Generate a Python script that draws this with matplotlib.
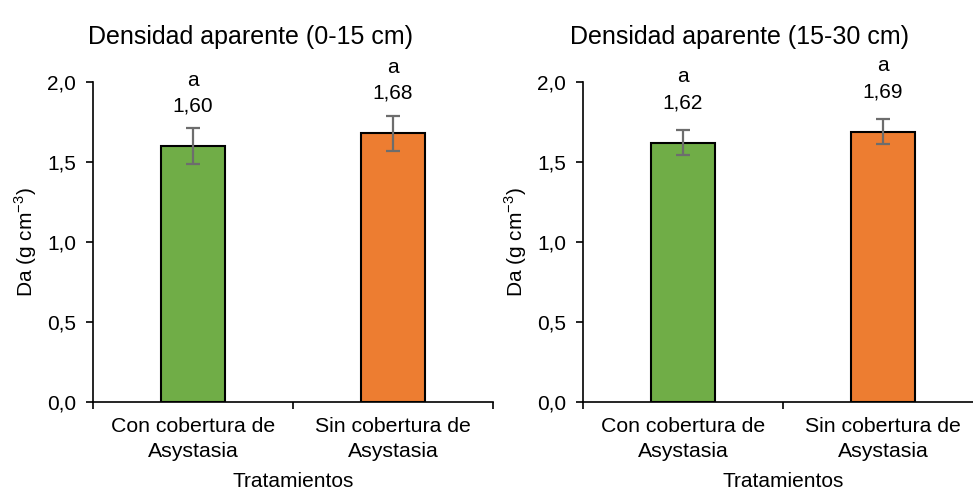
import matplotlib
matplotlib.use("Agg")
import matplotlib.pyplot as plt

plt.rcParams['font.family'] = ['Liberation Sans', 'DejaVu Sans']
plt.rcParams['mathtext.fontset'] = 'custom'
plt.rcParams['mathtext.rm'] = 'Liberation Sans'

categories = ["Con cobertura de\nAsystasia", "Sin cobertura de\nAsystasia"]
titles = ["Densidad aparente (0-15 cm)", "Densidad aparente (15-30 cm)"]
da_0_15 = [1.60, 1.68]
err_0_15 = [0.11, 0.11]
da_15_30 = [1.62, 1.69]
err_15_30 = [0.078, 0.078]
letters_0_15 = ["a", "a"]
letters_15_30 = ["a", "a"]
colors = ["#70AD47", "#ED7D31"]

fig = plt.figure(figsize=(9.73, 4.92), dpi=100)
W, H = 973, 492

panels = [
    (93, da_0_15, err_0_15, letters_0_15, titles[0], 250),
    (583, da_15_30, err_15_30, letters_15_30, titles[1], 740),
]

for x0, vals, errs, letters, title, title_x in panels:
    ax = fig.add_axes([x0 / W, 1 - 402 / H, 400 / W, 320 / H])
    xs = [0, 1]
    ax.bar(xs, vals, width=0.32, color=colors, edgecolor="black", linewidth=1.5, zorder=2)
    ax.errorbar(xs, vals, yerr=errs, fmt="none", ecolor="#6d6d6d", elinewidth=1.6,
                capsize=5, capthick=1.6, zorder=3)
    for x, v, e, l in zip(xs, vals, errs, letters):
        ax.annotate("{:.2f}".format(v).replace(".", ","), (x, v), xytext=(0, 40),
                    textcoords="offset pixels", ha="center", va="center", fontsize=15)
        ax.annotate(l, (x, v), xytext=(0, 66), textcoords="offset pixels",
                    ha="center", va="center", fontsize=15)
    ax.set_xlim(-0.5, 1.5)
    ax.set_ylim(0, 2.0)
    ax.set_yticks([0, 0.5, 1.0, 1.5, 2.0])
    ax.set_yticklabels(["0,0", "0,5", "1,0", "1,5", "2,0"])
    ax.set_xticks([-0.5, 0.5, 1.5])
    ax.set_xticklabels(["", "", ""])
    ax.set_xticks(xs, minor=True)
    ax.set_xticklabels(categories, minor=True, fontsize=15.3, linespacing=1.35)
    ax.tick_params(axis="x", which="major", length=5, width=1.2, direction="out")
    ax.tick_params(axis="x", which="minor", length=0, pad=11)
    ax.tick_params(axis="y", length=5, width=1.2, direction="out", labelsize=15, pad=7)
    for s in ["top", "right"]:
        ax.spines[s].set_visible(False)
    ax.spines["left"].set_linewidth(1.2)
    ax.spines["bottom"].set_linewidth(1.2)
    ax.set_ylabel("Da (g cm$^{\\mathregular{-3}}$)", fontsize=15, labelpad=6)
    ax.set_xlabel("Tratamientos", fontsize=15, labelpad=8)
    fig.text(title_x / W, 1 - 37 / H, title, ha="center", va="center", fontsize=18)

fig.savefig("out.png", dpi=100)
